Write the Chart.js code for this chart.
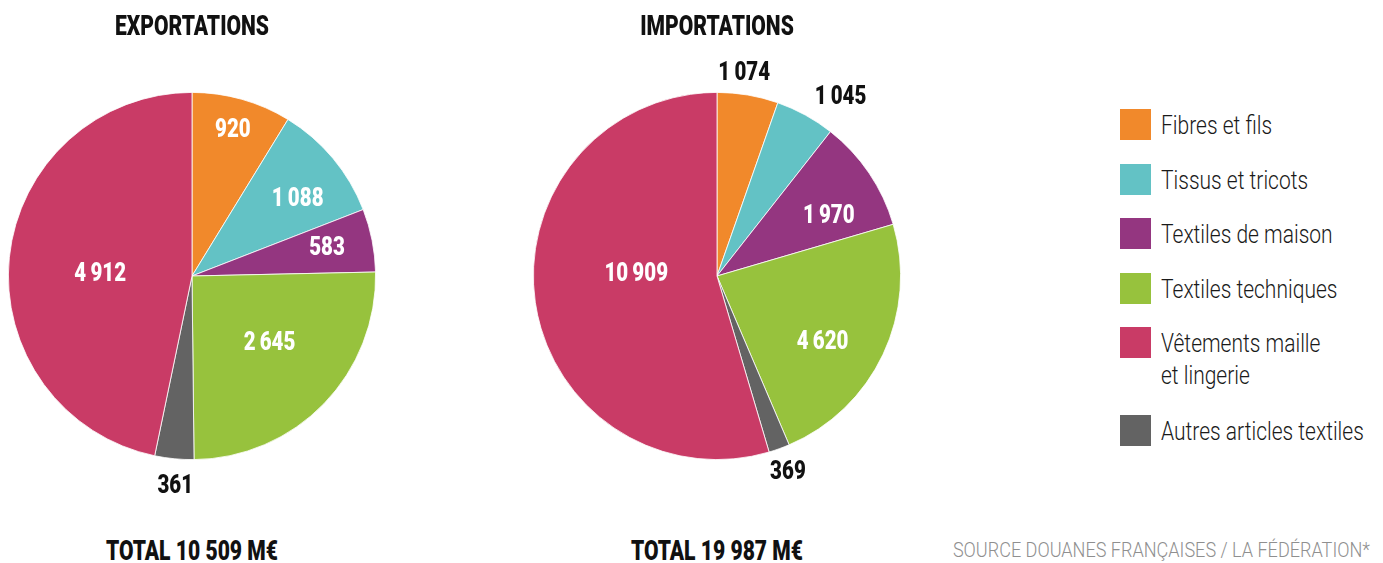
<!DOCTYPE html>
<html>
<head>
<meta charset="utf-8">
<script src="https://cdn.jsdelivr.net/npm/chart.js@4"></script>
<style>
  html, body { margin:0; padding:0; background:#fff; }
  body { width:1383px; height:563px; position:relative; overflow:hidden; font-family:Roboto,"DejaVu Sans Condensed",sans-serif; }
  .t { position:absolute; font-weight:900; color:#111; font-size:27px; line-height:30px; white-space:nowrap;
       transform:translateX(-50%) scaleX(0.78); }
  .wrap { position:absolute; }
  #legend { position:absolute; left:1120px; top:109px; }
  .li { position:absolute; left:0; white-space:nowrap; }
  .sw { position:absolute; left:0; top:0; width:31px; height:31px; }
  .lt { position:absolute; left:41px; top:1px; font-size:25px; font-weight:300; line-height:32px; color:#1a1a1a;
        transform-origin:0 0; transform:scaleX(0.84); }
  #source { position:absolute; right:13px; top:538px; font-size:21px; font-weight:300; color:#8f8f8f; white-space:nowrap;
            transform-origin:100% 0; transform:scaleX(0.86); }
</style>
</head>
<body>
<script>
// ---- data ----
const categories = ["Fibres et fils", "Tissus et tricots", "Textiles de maison", "Textiles techniques", "Autres articles textiles", "Vêtements maille et lingerie"];
const legendOrder = [0, 1, 2, 3, 5, 4];
const legendLines = [["Fibres et fils"], ["Tissus et tricots"], ["Textiles de maison"], ["Textiles techniques"], ["Autres articles textiles"], ["Vêtements maille", "et lingerie"]];
const exportValues = [920, 1088, 583, 2645, 361, 4912];
const importValues = [1074, 1045, 1970, 4620, 369, 10909];
const chartTitles = ["EXPORTATIONS", "IMPORTATIONS"];
const sourceText = "SOURCE DOUANES FRANÇAISES / LA FÉDÉRATION*";

// ---- styles ----
const colors = ["#F1892B", "#63C2C5", "#943680", "#97C23D", "#636363", "#C93B66"];
const exportLabelRadius = [0.82, 0.71, 0.75, 0.56, 1.15, 0.50];
const exportLabelShift  = [0, 4, 0, -3, -1, -5];
const exportLabelOutside = [false, false, false, false, true, false];
const importLabelRadius = [1.11, 1.18, 0.69, 0.68, 1.14, 0.44];
const importLabelShift  = [-2, 6, 6, 7, 0, 9];
const importLabelOutside = [true, true, false, false, true, false];

function fmt(n) {
  return String(n).replace(/\B(?=(\d{3})+(?!\d))/g, "\u2009");
}

const labelPlugin = {
  id: 'sliceLabels',
  afterDatasetsDraw(chart, args, opts) {
    const ctx = chart.ctx;
    const meta = chart.getDatasetMeta(0);
    const data = chart.data.datasets[0].data;
    meta.data.forEach((arc, i) => {
      const p = arc.getProps(['x','y','startAngle','endAngle','outerRadius'], true);
      const mid = (p.startAngle + p.endAngle) / 2 + opts.shift[i] * Math.PI / 180;
      const r = p.outerRadius * opts.radius[i];
      const x = p.x + Math.cos(mid) * r;
      const y = p.y + Math.sin(mid) * r;
      ctx.save();
      ctx.font = '900 25px Roboto,"DejaVu Sans Condensed",sans-serif';
      ctx.textAlign = 'center';
      ctx.textBaseline = 'middle';
      ctx.translate(x, y);
      ctx.scale(0.82, 1);
      ctx.fillStyle = opts.outside[i] ? '#111' : '#fff';
      ctx.fillText(fmt(data[i]), 0, 0);
      ctx.restore();
    });
  }
};

function makePie(left, values, radius, shift, outside) {
  const wrap = document.createElement('div');
  wrap.className = 'wrap';
  wrap.style.left = left + 'px';
  wrap.style.top = '40px';
  wrap.style.width = '430px';
  wrap.style.height = '480px';
  const cv = document.createElement('canvas');
  wrap.appendChild(cv);
  document.body.appendChild(wrap);
  new Chart(cv, {
    type: 'pie',
    data: {
      labels: categories,
      datasets: [{ data: values, backgroundColor: colors, borderColor: '#ffffff', borderWidth: 0.8 }]
    },
    options: {
      responsive: true,
      maintainAspectRatio: false,
      animation: false,
      events: [],
      layout: { padding: { left: 8, right: 54, top: 52, bottom: 60 } },
      plugins: {
        legend: { display: false },
        tooltip: { enabled: false },
        sliceLabels: { radius: radius, shift: shift, outside: outside }
      }
    },
    plugins: [labelPlugin]
  });
}

function addText(txt, cx, top) {
  const d = document.createElement('div');
  d.className = 't';
  d.style.left = cx + 'px';
  d.style.top = top + 'px';
  d.textContent = txt;
  document.body.appendChild(d);
}

makePie(0, exportValues, exportLabelRadius, exportLabelShift, exportLabelOutside);
makePie(525, importValues, importLabelRadius, importLabelShift, importLabelOutside);

const sum = a => a.reduce((s, v) => s + v, 0);
addText(chartTitles[0], 192, 11);
addText(chartTitles[1], 717, 11);
addText("TOTAL " + fmt(sum(exportValues)).replace(/\u2009/g, " ") + " M€", 192, 536);
addText("TOTAL " + fmt(sum(importValues)).replace(/\u2009/g, " ") + " M€", 717, 536);

// legend
const legend = document.createElement('div');
legend.id = 'legend';
const legendTops = [0, 55, 109, 164, 218, 306];
legendOrder.forEach((ci, k) => {
  const li = document.createElement('div');
  li.className = 'li';
  li.style.top = legendTops[k] + 'px';
  const sw = document.createElement('div');
  sw.className = 'sw';
  sw.style.background = colors[ci];
  const lt = document.createElement('div');
  lt.className = 'lt';
  lt.innerHTML = legendLines[ci].join('<br>');
  li.appendChild(sw); li.appendChild(lt);
  legend.appendChild(li);
});
document.body.appendChild(legend);

const src = document.createElement('div');
src.id = 'source';
src.textContent = sourceText;
document.body.appendChild(src);
</script>
</body>
</html>
